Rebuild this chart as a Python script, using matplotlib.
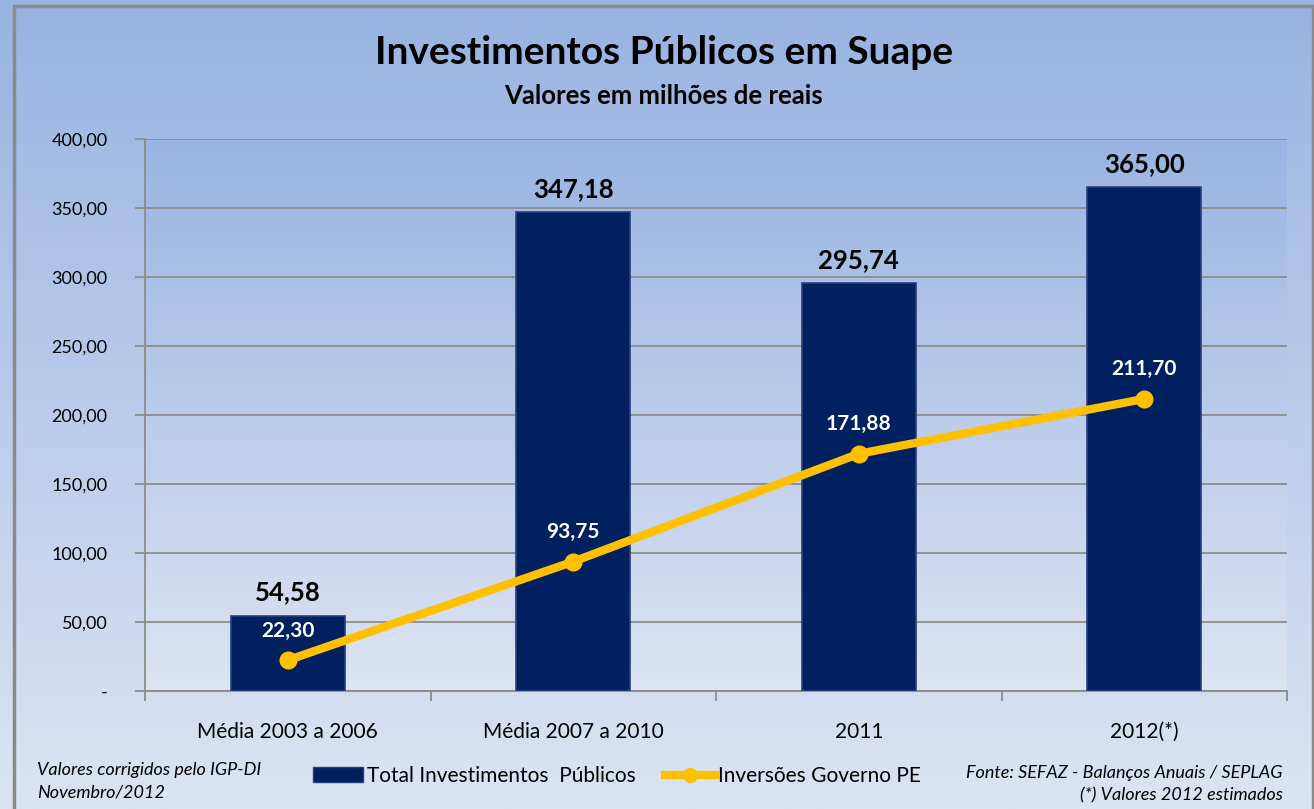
import numpy as np
import matplotlib.pyplot as plt
from matplotlib.colors import to_rgb
from matplotlib.patches import Rectangle
from matplotlib.lines import Line2D

categories = ["Média 2003 a 2006", "Média 2007 a 2010", "2011", "2012(*)"]
total_invest = [54.58, 347.18, 295.74, 365.00]
inversoes_pe = [22.30, 93.75, 171.88, 211.70]
y_ticks = [0, 50, 100, 150, 200, 250, 300, 350, 400]

FONT = "Lato"
NAVY = "#00205f"
GOLD = "#ffc000"


def br(v):
    return f"{v:,.2f}".replace(",", "X").replace(".", ",").replace("X", ".")


def gradient(ax, top, bottom, transform):
    c = np.linspace(0, 1, 256)[:, None, None]
    t = np.array(to_rgb(top))[None, None, :]
    b = np.array(to_rgb(bottom))[None, None, :]
    img = np.repeat(t * (1 - c) + b * c, 2, axis=1)
    ax.imshow(img, extent=[0, 1, 0, 1], transform=transform, aspect="auto",
              zorder=0, origin="upper", interpolation="bilinear")


fig = plt.figure(figsize=(13.14, 8.09), dpi=100)

# background of the whole chart
bg = fig.add_axes([0, 0, 1, 1])
bg.set_axis_off()
bg.set_xlim(0, 1)
bg.set_ylim(0, 1)
gradient(bg, "#98b3e2", "#dce4f2", bg.transAxes)
bg.add_patch(Rectangle((14 / 1314, -0.01), (1313 - 14) / 1314, 1 - 6 / 809 + 0.01,
                       fill=False, edgecolor="#8a8a8a", linewidth=2.5,
                       transform=bg.transAxes, zorder=3))

ax = fig.add_axes([145 / 1314, 1 - 691 / 809, (1287 - 145) / 1314, (691 - 139) / 809])
ax.set_facecolor("none")
x = np.arange(len(categories))
ax.set_xlim(-0.5, len(categories) - 0.5)
ax.set_ylim(0, 400)
gradient(ax, "#99b4e2", "#dde4f2", ax.transAxes)

ax.set_yticks(y_ticks)
ax.yaxis.grid(True, color="#8c8c8c", linewidth=1.3, zorder=1)
ax.set_axisbelow(True)

ax.bar(x, total_invest, width=0.4, color=NAVY, edgecolor="#2a3f7a",
       linewidth=1.2, zorder=3)
for xi, v in zip(x, total_invest):
    ax.annotate(br(v), (xi, v), xytext=(0, 8), textcoords="offset points",
                ha="center", va="bottom", fontsize=18.5, fontweight="bold",
                family=FONT, color="black", zorder=6)

ax.plot(x, inversoes_pe, color=GOLD, linewidth=6, marker="o", markersize=12,
        solid_capstyle="round", zorder=4)
for xi, v in zip(x, inversoes_pe):
    ax.annotate(br(v), (xi, v), xytext=(0, 14), textcoords="offset points",
                ha="center", va="bottom", fontsize=15, fontweight="bold",
                family=FONT, color="white", zorder=6)

ax.set_yticklabels(["-" if t == 0 else br(t) for t in y_ticks],
                   family=FONT, fontsize=13)
ax.set_xticks(x)
ax.set_xticklabels(categories, family=FONT, fontsize=15)
ax.set_xticks(np.arange(-0.5, len(categories)), minor=True)
ax.tick_params(axis="x", which="major", length=0, pad=22)
ax.tick_params(axis="x", which="minor", length=7, color="#8c8c8c", width=1.3)
ax.tick_params(axis="y", length=7, color="#8c8c8c", width=1.3, pad=20)

for s in ["top", "right"]:
    ax.spines[s].set_visible(False)
for s in ["left", "bottom"]:
    ax.spines[s].set_color("#8c8c8c")
    ax.spines[s].set_linewidth(1.3)

fig.text(664 / 1314, 1 - 52 / 809, "Investimentos Públicos em Suape", ha="center",
         va="center", fontsize=28, fontweight="bold", family=FONT)
fig.text(664 / 1314, 1 - 96 / 809, "Valores em milhões de reais", ha="center",
         va="center", fontsize=18.5, fontweight="bold", family=FONT)

handles = [Rectangle((0, 0), 1, 1, facecolor=NAVY, edgecolor="#2a3f7a"),
           Line2D([], [], color=GOLD, linewidth=6, marker="o", markersize=10)]
fig.legend(handles, ["Total Investimentos  Públicos", "Inversões Governo PE"],
           loc="center", bbox_to_anchor=(617 / 1314, 1 - 776 / 809), ncol=2,
           frameon=False, prop={"family": FONT, "size": 15}, handlelength=2.4,
           handletextpad=0.15, columnspacing=1.4)

fig.text(37 / 1314, 1 - 770 / 809, "Valores corrigidos pelo IGP-DI", ha="left",
         va="center", fontsize=13, style="italic", family=FONT)
fig.text(37 / 1314, 1 - 792 / 809, "Novembro/2012", ha="left",
         va="center", fontsize=13, style="italic", family=FONT)
fig.text(1283 / 1314, 1 - 773 / 809, "Fonte: SEFAZ - Balanços Anuais / SEPLAG",
         ha="right", va="center", fontsize=13, style="italic", family=FONT)
fig.text(1283 / 1314, 1 - 795 / 809, "(*) Valores 2012 estimados",
         ha="right", va="center", fontsize=13, style="italic", family=FONT)

fig.savefig("out.png", dpi=100)
